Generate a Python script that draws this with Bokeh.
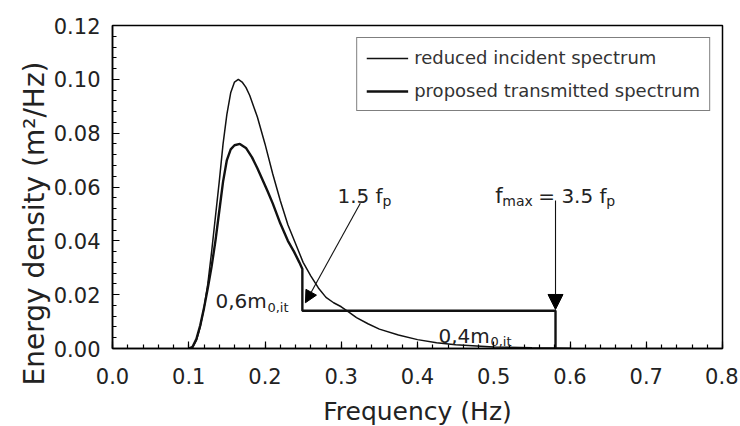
from bokeh.plotting import figure
from bokeh.models import (Range1d, SingleIntervalTicker, PrintfTickFormatter,
                          Arrow, NormalHead, Label, Title)
from bokeh.embed import file_html
from bokeh.resources import INLINE

# ---- data ----
freq_incident = [0.100, 0.105, 0.110, 0.115, 0.120, 0.125, 0.130, 0.135, 0.140, 0.145,
                 0.150, 0.155, 0.160, 0.165, 0.170, 0.175, 0.180, 0.190, 0.200, 0.210,
                 0.220, 0.230, 0.240, 0.250, 0.260, 0.270, 0.280, 0.290, 0.300, 0.310,
                 0.320, 0.335, 0.350, 0.375, 0.400, 0.425, 0.450, 0.500, 0.550, 0.600]
energy_incident = [0.0000, 0.0004, 0.0030, 0.0080, 0.0150, 0.0240, 0.0360, 0.0490, 0.0620, 0.0760,
                   0.0870, 0.0950, 0.0990, 0.1000, 0.0990, 0.0970, 0.0940, 0.0860, 0.0760, 0.0650,
                   0.0550, 0.0460, 0.0390, 0.0320, 0.0270, 0.0225, 0.0190, 0.0170, 0.0155, 0.0135,
                   0.0115, 0.0092, 0.0072, 0.0050, 0.0033, 0.0021, 0.0014, 0.0006, 0.0003, 0.0001]

freq_transmitted = [0.100, 0.105, 0.110, 0.115, 0.120, 0.125, 0.130, 0.135, 0.140, 0.145,
                    0.150, 0.155, 0.160, 0.167, 0.175, 0.183, 0.190, 0.203, 0.210, 0.220,
                    0.230, 0.238, 0.245, 0.249, 0.249, 0.581, 0.581]
energy_transmitted = [0.0000, 0.0006, 0.0035, 0.0085, 0.0150, 0.0225, 0.0305, 0.0400, 0.0510, 0.0620,
                      0.0700, 0.0740, 0.0755, 0.0760, 0.0745, 0.0710, 0.0670, 0.0587, 0.0540, 0.0465,
                      0.0400, 0.0360, 0.0320, 0.0295, 0.0140, 0.0140, 0.0000]

fp = 0.166                     # peak frequency
arrow_x_start = [0.325, 3.5 * fp]
arrow_y_start = [0.054, 0.055]
arrow_x_end = [0.253, 3.5 * fp]
arrow_y_end = [0.017, 0.0145]

x_ticks_interval = 0.1
y_ticks_interval = 0.02

x_label = "Frequency (Hz)"
y_label = "Energy density (m²/Hz)"

FONT = "DejaVu Sans"
TXT = "#222222"

p = figure(frame_width=610, frame_height=323, output_backend="svg", toolbar_location=None,
           x_range=Range1d(0, 0.8), y_range=Range1d(0, 0.12),
           min_border_left=112, min_border_right=16, min_border_top=25, min_border_bottom=76,
           background_fill_color="white", border_fill_color="white")
p.grid.visible = False
p.outline_line_color = "black"
p.outline_line_width = 1.5

p.xaxis.ticker = SingleIntervalTicker(interval=x_ticks_interval, num_minor_ticks=5)
p.yaxis.ticker = SingleIntervalTicker(interval=y_ticks_interval, num_minor_ticks=5)
p.xaxis.formatter = PrintfTickFormatter(format="%.1f")
p.yaxis.formatter = PrintfTickFormatter(format="%.2f")

for ax in (p.xaxis, p.yaxis):
    ax.axis_line_color = "black"
    ax.axis_line_width = 1.5
    ax.major_tick_in = 7
    ax.major_tick_out = 0
    ax.minor_tick_in = 4
    ax.minor_tick_out = 0
    ax.major_tick_line_color = "black"
    ax.minor_tick_line_color = "black"
    ax.major_tick_line_width = 1.2
    ax.minor_tick_line_width = 1.2
    ax.major_label_text_font = FONT
    ax.major_label_text_font_size = "21px"
    ax.major_label_text_color = TXT
    ax.axis_label_text_font = FONT
    ax.axis_label_text_font_style = "normal"
    ax.axis_label_text_color = TXT

p.yaxis.major_label_standoff = 12
p.xaxis.major_label_standoff = 19
p.xaxis.axis_label = x_label
p.xaxis.axis_label_text_font_size = "25px"
p.xaxis.axis_label_standoff = 10

# y-axis title: a vertical side title, shifted down as in the reference
p.add_layout(Title(text=y_label, align="left", offset=-37, standoff=0,
                   text_font=FONT, text_font_size="28px", text_font_style="normal",
                   text_color=TXT), "left")

p.line(freq_incident, energy_incident, line_color="#111111", line_width=1.5,
       legend_label="reduced incident spectrum")
p.line(freq_transmitted, energy_transmitted, line_color="#111111", line_width=2.4,
       legend_label="proposed transmitted spectrum")

lg = p.legend[0]
lg.location = "top_right"
lg.margin = 12
lg.padding = 9
lg.spacing = 12
lg.glyph_width = 42
lg.glyph_height = 20
lg.label_height = 20
lg.label_standoff = 6
lg.label_text_font = FONT
lg.label_text_font_size = "18px"
lg.label_text_color = "#333333"
lg.border_line_color = "black"
lg.border_line_width = 1.5
lg.background_fill_alpha = 1.0

for i in range(len(arrow_x_start)):
    size = 12 if i == 0 else 15
    p.add_layout(Arrow(end=NormalHead(size=size, fill_color="black", line_color="black"),
                       x_start=arrow_x_start[i], y_start=arrow_y_start[i],
                       x_end=arrow_x_end[i], y_end=arrow_y_end[i],
                       line_color="#111111", line_width=1.1))

# annotation texts: (text, x, y, x_offset, y_offset, size)
annotations = [
    ("1.5 f", 0.295, 0.0568, 0, 0, "20px"),
    ("p", 0.295, 0.0568, 45, -5, "14px"),
    ("f", 0.502, 0.0568, 0, 0, "21px"),
    ("max", 0.502, 0.0568, 7, -5, "14px"),
    ("= 3.5 f", 0.502, 0.0568, 43, 0, "20px"),
    ("p", 0.502, 0.0568, 111, -5, "14px"),
    ("0,6m", 0.135, 0.0175, 0, 0, "20px"),
    ("0,it", 0.135, 0.0175, 52, -6, "13px"),
    ("0,4m", 0.4275, 0.0048, 0, 0, "20px"),
    ("0,it", 0.4275, 0.0048, 52, -6, "13px"),
]
for t, x, y, xo, yo, fs in annotations:
    p.add_layout(Label(x=x, y=y, x_offset=xo, y_offset=yo, text=t,
                       text_font=FONT, text_font_size=fs, text_color=TXT,
                       text_baseline="alphabetic", text_align="left"))

open("out.html", "w").write(file_html(p, INLINE))
